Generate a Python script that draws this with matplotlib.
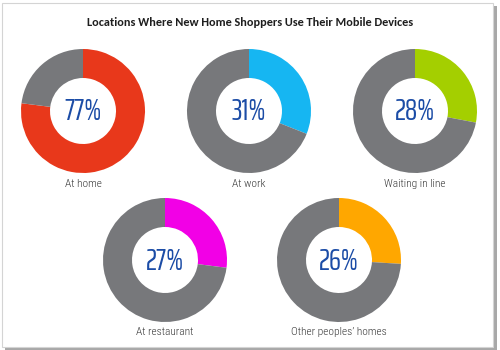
import matplotlib
matplotlib.use("Agg")
import matplotlib.pyplot as plt
from matplotlib.patches import Rectangle

# Survey shares (percent of new home shoppers)
locations = ["At home", "At work", "Waiting in line", "At restaurant", "Other peoples\u2019 homes"]
shares = [77, 31, 28, 27, 26]
colors = ["#e8381b", "#16b6f2", "#a4cf00", "#f200e6", "#ffa700"]
rest_color = "#77787b"
title = "Locations Where New Home Shoppers Use Their Mobile Devices"

# Layout in pixels (origin top-left)
W, H = 500, 350
centers = [(83, 111), (249, 111), (415, 111), (165, 260), (339, 260)]
label_y = [184, 184, 184, 332, 332]
R_OUT, RING = 62, 29

num_font = ["Saira ExtraCondensed", "Barlow Condensed", "Roboto Condensed", "Liberation Sans Narrow", "DejaVu Sans"]
lab_font = ["Roboto Condensed", "Liberation Sans Narrow", "DejaVu Sans"]
title_font = ["Carlito", "Lato", "DejaVu Sans"]

fig = plt.figure(figsize=(W / 100, H / 100), dpi=100)
ax = fig.add_axes([0, 0, 1, 1])

# Card with a soft drop shadow
ax.add_patch(Rectangle((5, 0.5), 492, 344, facecolor="#a8a8a8", edgecolor="none", zorder=0))
ax.add_patch(Rectangle((2, 3.5), 491, 344, facecolor="white", edgecolor="#d4d4d4", lw=0.8, zorder=1))

for (cx, cy), ly, name, v, c in zip(centers, label_y, locations, shares, colors):
    ax.pie([v, 100 - v], colors=[c, rest_color], startangle=90, counterclock=False,
           radius=R_OUT, center=(cx, H - cy),
           wedgeprops=dict(width=RING, edgecolor="none", zorder=2))
    ax.text(cx, H - cy - 1, f"{v}%", ha="center", va="center", fontsize=22,
            color="#1b4ca6", family=num_font, zorder=3)
    ax.text(cx, H - ly, name, ha="center", va="center", fontsize=8.2,
            color="#3a3a3a", family=lab_font, weight="light", zorder=3)

ax.text(W / 2, H - 22, title, ha="center", va="center", fontsize=8.8,
        weight="bold", color="#1e1e1e", family=title_font, zorder=3)

ax.set_xlim(0, W)
ax.set_ylim(0, H)
ax.set_aspect("auto")
ax.axis("off")
fig.savefig("out.png", dpi=100)
